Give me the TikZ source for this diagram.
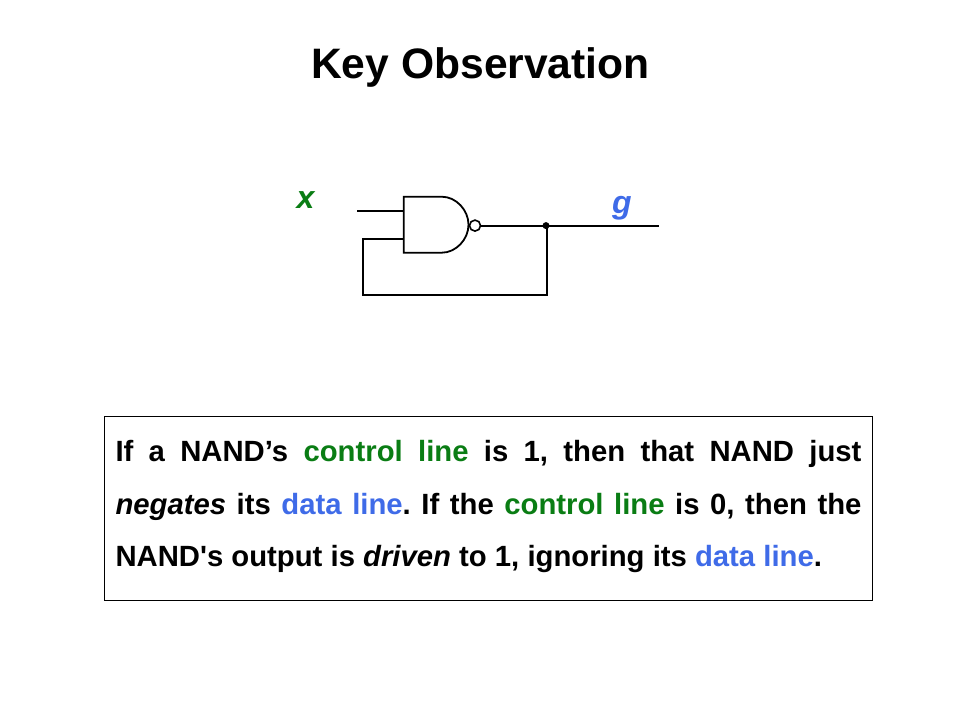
\documentclass[tikz,border=0pt]{standalone}
\usepackage{fontspec}
\setmainfont{Liberation Sans}[Ligatures=TeXOff]
\definecolor{ctrl}{HTML}{0A7D14}
\definecolor{datac}{HTML}{3F6BE8}
\newcommand{\ctl}[1]{\textcolor{ctrl}{#1}}
\newcommand{\dat}[1]{\textcolor{datac}{#1}}
\tikzset{
  wire/.style={draw=black,line width=1.8pt},
  titletext/.style={font=\fontsize{42.6pt}{50pt}\selectfont\bfseries,text=black,inner sep=0pt},
  varlabel/.style={font=\fontsize{32pt}{38pt}\selectfont\bfseries\itshape,inner sep=0pt},
  bodyframe/.style={draw=black,line width=1pt,minimum width=768pt,minimum height=184pt,inner sep=0pt},
  bodytext/.style={inner sep=0pt,text width=746pt,align=justify,font=\fontsize{29.28pt}{52.5pt}\selectfont\bfseries},
  bubble/.style={circle,draw=black,line width=1.6pt,fill=white,minimum size=11pt,inner sep=0pt},
  joint/.style={circle,fill=black,minimum size=7pt,inner sep=0pt}
}
\begin{document}
\begin{tikzpicture}[x=1pt,y=-1pt]
\useasboundingbox (0,0) rectangle (960,720);
\fill[white] (0,0) rectangle (960,720);
\node[titletext] (title) at (480.5,67.5) {Key Observation};
\node[varlabel,text=ctrl] (xl) at (305.5,200) {x};
\node[varlabel,text=datac] (gl) at (622,208.5) {g};
% gate
\coordinate (gtl) at (403.7,196.7);
\coordinate (gbl) at (403.7,252.7);
\coordinate (in1) at (403.7,211);
\coordinate (in2) at (403.7,239);
\draw[wire,line join=miter] (441.7,252.7) -- (gbl) -- (gtl) -- (441.7,196.7)
  .. controls (456,196.7) and (468.5,210) .. (468.5,224.7)
  .. controls (468.5,239.4) and (456,252.7) .. (441.7,252.7);
\node[bubble] (bub) at (475,225.6) {};
\coordinate (x0) at (357,211);
\coordinate (outend) at (659,225.6);
\node[joint] (j) at (546,225.6) {};
\coordinate (corner) at (546.8,295);
\coordinate (lc) at (362.8,295);
\coordinate (lt) at (362.8,239);
\draw[wire] (x0) -- (in1);
\draw[wire] (bub.east) -- (j.center) -- (outend);
\draw[wire,line join=miter] (j.center -| corner) -- (corner) -- (lc) -- (lt) -- (in2);
\node[bodyframe] (body) at (488.5,508.5) {};
\node[bodytext] (bodyt) at (488.5,506.5) {\sloppy\frenchspacing
If a NAND’s \ctl{control line} is 1, then that NAND just\linebreak
\textit{negates} its \dat{data line}. If the \ctl{control line} is 0, then the\linebreak
NAND's output is \textit{driven} to 1, ignoring its \dat{data line}.};
\end{tikzpicture}
\end{document}
